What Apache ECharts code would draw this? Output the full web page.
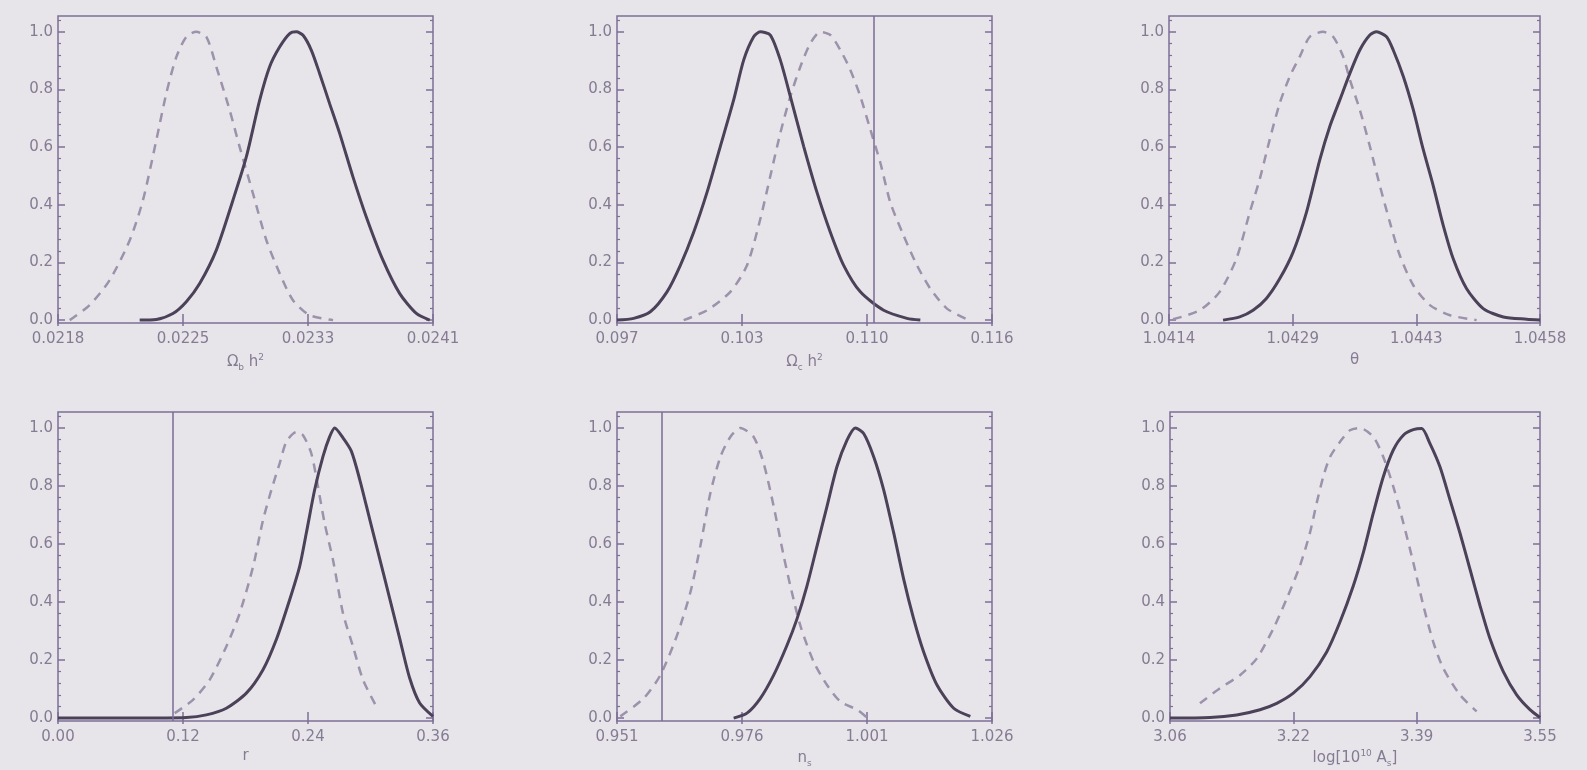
<!DOCTYPE html>
<html>
<head>
<meta charset="utf-8">
<script src="https://cdn.jsdelivr.net/npm/echarts@6/dist/echarts.min.js"></script>
<style>
  html, body { margin: 0; padding: 0; background: #e7e5ea; }
  #main { width: 1587px; height: 770px; }
</style>
</head>
<body>
<div id="main"></div>
<script>
// tick values and labels
const yTicks = [0, 0.2, 0.4, 0.6, 0.8, 1.0];
const yLabels = ['0.0', '0.2', '0.4', '0.6', '0.8', '1.0'];
const yMinor = [0.04, 0.08, 0.12, 0.16, 0.24, 0.28, 0.32, 0.36, 0.44, 0.48, 0.52, 0.56,
  0.64, 0.68, 0.72, 0.76, 0.84, 0.88, 0.92, 0.96, 1.04];

const xTicks1 = [0.0218, 0.022567, 0.023333, 0.0241];
const xLabels1 = ['0.0218', '0.0225', '0.0233', '0.0241'];
const xTicks2 = [0.097, 0.103333, 0.109667, 0.116];
const xLabels2 = ['0.097', '0.103', '0.110', '0.116'];
const xTicks3 = [1.0414, 1.042867, 1.044333, 1.0458];
const xLabels3 = ['1.0414', '1.0429', '1.0443', '1.0458'];
const xTicks4 = [0, 0.12, 0.24, 0.36];
const xLabels4 = ['0.00', '0.12', '0.24', '0.36'];
const xTicks5 = [0.951, 0.976, 1.001, 1.026];
const xLabels5 = ['0.951', '0.976', '1.001', '1.026'];
const xTicks6 = [3.06, 3.223333, 3.386667, 3.55];
const xLabels6 = ['3.06', '3.22', '3.39', '3.55'];

// Omega_b h^2
const solid1 = [[0.022301, 0], [0.022403, 0.002], [0.022505, 0.023], [0.022587, 0.064], [0.022669, 0.127],
  [0.022771, 0.243], [0.022873, 0.416], [0.022955, 0.566], [0.023037, 0.763], [0.023098, 0.879],
  [0.02316, 0.948], [0.023221, 0.994], [0.023262, 1.0], [0.023303, 0.988], [0.023354, 0.936],
  [0.023405, 0.855], [0.023466, 0.751], [0.023528, 0.647], [0.023609, 0.497], [0.023691, 0.358],
  [0.023793, 0.208], [0.023896, 0.092], [0.023998, 0.023], [0.02408, 0]];
const dash1 = [[0.021872, 0], [0.021994, 0.052], [0.022117, 0.139], [0.02224, 0.277], [0.022321, 0.416],
  [0.022403, 0.624], [0.022464, 0.786], [0.022526, 0.913], [0.022587, 0.983], [0.022648, 1.0],
  [0.02271, 0.983], [0.022771, 0.879], [0.022853, 0.728], [0.022914, 0.601], [0.022996, 0.439],
  [0.023078, 0.277], [0.02316, 0.162], [0.023241, 0.069], [0.023343, 0.017], [0.023487, 0]];
// Omega_c h^2
const solid2 = [[0.097, 0], [0.097844, 0.006], [0.098689, 0.029], [0.099533, 0.098], [0.100209, 0.19],
  [0.100884, 0.305], [0.10156, 0.443], [0.102236, 0.603], [0.102911, 0.764], [0.103418, 0.902],
  [0.103924, 0.983], [0.104262, 1.0], [0.104769, 0.989], [0.105276, 0.902], [0.105782, 0.776],
  [0.106458, 0.603], [0.107133, 0.443], [0.107809, 0.305], [0.108484, 0.19], [0.109329, 0.098],
  [0.110511, 0.034], [0.111693, 0.006], [0.112369, 0]];
const dash2 = [[0.100378, 0], [0.10156, 0.034], [0.102742, 0.098], [0.103587, 0.19], [0.104262, 0.351],
  [0.104769, 0.5], [0.105276, 0.649], [0.105782, 0.776], [0.106289, 0.879], [0.106796, 0.96],
  [0.107302, 1.0], [0.107809, 0.989], [0.108316, 0.937], [0.108822, 0.868], [0.109329, 0.776],
  [0.109836, 0.661], [0.110342, 0.546], [0.110849, 0.408], [0.111524, 0.293], [0.1122, 0.19],
  [0.112876, 0.109], [0.11372, 0.04], [0.114733, 0.003]];
// theta
const solid3 = [[1.042041, 0], [1.042239, 0.011], [1.042397, 0.034], [1.042555, 0.075], [1.042714, 0.144],
  [1.042872, 0.236], [1.04303, 0.374], [1.043189, 0.557], [1.043307, 0.672], [1.043426, 0.764],
  [1.043545, 0.856], [1.043663, 0.937], [1.043782, 0.989], [1.043861, 1.0], [1.04398, 0.983],
  [1.044059, 0.937], [1.044178, 0.846], [1.044297, 0.73], [1.044415, 0.592], [1.044534, 0.466],
  [1.044653, 0.328], [1.044771, 0.213], [1.04493, 0.109], [1.045127, 0.04], [1.045365, 0.011],
  [1.045642, 0.003], [1.0458, 0]];
const dash3 = [[1.041447, 0.003], [1.041764, 0.034], [1.042001, 0.098], [1.042199, 0.213], [1.042358, 0.374],
  [1.042476, 0.489], [1.042595, 0.627], [1.042714, 0.753], [1.042832, 0.845], [1.042951, 0.914],
  [1.04307, 0.983], [1.043228, 1.0], [1.043347, 0.983], [1.043466, 0.914], [1.043545, 0.834],
  [1.043663, 0.73], [1.043782, 0.603], [1.043901, 0.466], [1.04402, 0.339], [1.044138, 0.224],
  [1.044297, 0.121], [1.044494, 0.052], [1.044732, 0.017], [1.045048, 0]];
// r
const solid4 = [[0, 0], [0.072, 0], [0.1232, 0.002], [0.1424, 0.011], [0.1616, 0.034], [0.1808, 0.086],
  [0.1968, 0.167], [0.2096, 0.271], [0.2224, 0.408], [0.232, 0.523], [0.2384, 0.638], [0.2464, 0.787],
  [0.2544, 0.902], [0.2608, 0.97], [0.2656, 1.0], [0.2736, 0.966], [0.2816, 0.92], [0.2896, 0.823],
  [0.2992, 0.686], [0.3088, 0.55], [0.3184, 0.413], [0.328, 0.275], [0.3376, 0.138], [0.3472, 0.052],
  [0.36, 0.006]];
const dash4 = [[0.112, 0.017], [0.1296, 0.063], [0.1456, 0.132], [0.1616, 0.247], [0.1744, 0.361],
  [0.1872, 0.521], [0.1968, 0.682], [0.2048, 0.786], [0.2128, 0.878], [0.2192, 0.952], [0.2288, 0.986],
  [0.2352, 0.975], [0.2432, 0.912], [0.2496, 0.797], [0.256, 0.671], [0.264, 0.545], [0.2736, 0.361],
  [0.2832, 0.247], [0.2928, 0.132], [0.3056, 0.04]];
// n_s
const solid5 = [[0.974333, 0], [0.977, 0.017], [0.979667, 0.068], [0.982333, 0.148], [0.985, 0.251],
  [0.987, 0.342], [0.989, 0.456], [0.991, 0.593], [0.993, 0.73], [0.995, 0.867], [0.997, 0.958],
  [0.998667, 1.0], [1.000333, 0.981], [1.002333, 0.901], [1.004333, 0.787], [1.006333, 0.639],
  [1.008333, 0.479], [1.010333, 0.342], [1.012333, 0.228], [1.015, 0.114], [1.018333, 0.034],
  [1.021667, 0.006]];
const dash5 = [[0.951667, 0.006], [0.956333, 0.068], [0.959667, 0.148], [0.963, 0.285], [0.965667, 0.433],
  [0.967667, 0.593], [0.969667, 0.775], [0.971667, 0.9], [0.973667, 0.969], [0.975667, 1.0],
  [0.978333, 0.969], [0.980333, 0.878], [0.982333, 0.73], [0.984333, 0.559], [0.985667, 0.456],
  [0.987667, 0.319], [0.990333, 0.194], [0.993, 0.114], [0.995667, 0.057], [0.999, 0.029], [1.001, 0.002]];
// log[10^10 A_s]
const solid6 = [[3.06, 0], [3.113, 0.002], [3.1483, 0.011], [3.1792, 0.029], [3.2013, 0.051], [3.2233, 0.086],
  [3.2454, 0.143], [3.2675, 0.228], [3.2851, 0.331], [3.3028, 0.456], [3.316, 0.57], [3.3293, 0.707],
  [3.3425, 0.832], [3.3557, 0.924], [3.369, 0.975], [3.3822, 0.994], [3.3933, 0.998], [3.4043, 0.946],
  [3.4175, 0.866], [3.4308, 0.752], [3.444, 0.638], [3.4573, 0.513], [3.4705, 0.388], [3.4837, 0.274],
  [3.5014, 0.16], [3.5191, 0.08], [3.5367, 0.029], [3.55, 0.002]];
const dash6 = [[3.0997, 0.051], [3.1262, 0.103], [3.1527, 0.148], [3.1748, 0.205], [3.1968, 0.308],
  [3.2145, 0.411], [3.2321, 0.525], [3.2454, 0.639], [3.2542, 0.741], [3.263, 0.832], [3.2719, 0.9],
  [3.2851, 0.952], [3.2984, 0.992], [3.3116, 1.0], [3.3293, 0.969], [3.3425, 0.9], [3.3557, 0.798],
  [3.369, 0.673], [3.3822, 0.536], [3.3955, 0.388], [3.4087, 0.262], [3.422, 0.171], [3.444, 0.08],
  [3.4661, 0.023]];

// vertical reference lines (null = none)
const vLines = [0.02241, 0.1106, null, 0.1104, 0.958, null];

const names = [
  '{t|Ω}{s|b}{t| h}{p|2}',
  '{t|Ω}{s|c}{t| h}{p|2}',
  '{t|θ}',
  '{t|r}',
  '{t|n}{s|s}',
  '{t|log[10}{p|10}{t| A}{s|s}{t|]}'
];

const xTicks = [xTicks1, xTicks2, xTicks3, xTicks4, xTicks5, xTicks6];
const xLabels = [xLabels1, xLabels2, xLabels3, xLabels4, xLabels5, xLabels6];
const solids = [solid1, solid2, solid3, solid4, solid5, solid6];
const dashes = [dash1, dash2, dash3, dash4, dash5, dash6];

const boxes = [
  {left: 58, top: 16, width: 375, height: 307},
  {left: 617, top: 16, width: 375, height: 307},
  {left: 1169, top: 16, width: 371, height: 307},
  {left: 58, top: 412, width: 375, height: 309},
  {left: 617, top: 412, width: 375, height: 309},
  {left: 1170, top: 412, width: 370, height: 309}
];

const boxColor = '#7d6f98';
const textColor = '#857b93';
const yMin = -0.01, yMax = 1.055;

function pickLabel(ticks, labels, v) {
  for (let k = 0; k < ticks.length; k++) {
    if (Math.abs(ticks[k] - v) < 1e-7) return labels[k];
  }
  return '';
}

let grid = [], xAxis = [], yAxis = [], series = [];

boxes.forEach((b, i) => {
  grid.push(Object.assign({show: true, borderColor: boxColor, borderWidth: 1.5, backgroundColor: 'transparent'}, b));
  let ticks = xTicks[i];
  let xMin = ticks[0], xMax = ticks[ticks.length - 1];
  // bottom axis with labels
  xAxis.push({
    type: 'value', gridIndex: i, position: 'bottom', min: xMin, max: xMax,
    axisLine: {show: false}, splitLine: {show: false},
    axisTick: {show: true, inside: true, length: 6, customValues: ticks, lineStyle: {color: boxColor, width: 1.5}},
    axisLabel: {
      customValues: ticks, margin: 9, color: textColor, fontSize: 15, fontFamily: 'DejaVu Sans',
      formatter: v => pickLabel(ticks, xLabels[i], v)
    },
    name: names[i], nameLocation: 'middle', nameGap: i < 3 ? 30 : 28,
    nameTextStyle: {
      color: textColor, fontFamily: 'DejaVu Sans',
      rich: {
        t: {fontSize: 15, color: textColor, fontFamily: 'DejaVu Sans'},
        s: {fontSize: 9, color: textColor, padding: [10, 0, 0, 0]},
        p: {fontSize: 9, color: textColor, padding: [0, 0, 9, 0]}
      }
    }
  });
  // top axis, ticks only
  xAxis.push({
    type: 'value', gridIndex: i, position: 'top', min: xMin, max: xMax,
    axisLine: {show: false}, splitLine: {show: false}, axisLabel: {show: false},
    axisTick: {show: true, inside: true, length: 6, customValues: ticks, lineStyle: {color: boxColor, width: 1.5}}
  });
  ['left', 'right'].forEach(pos => {
    yAxis.push({
      type: 'value', gridIndex: i, position: pos, min: yMin, max: yMax,
      axisLine: {show: false}, splitLine: {show: false},
      axisTick: {show: true, inside: true, length: 7, customValues: yTicks, lineStyle: {color: boxColor, width: 1.5}},
      axisLabel: pos === 'left' ? {
        customValues: yTicks, margin: 5, color: textColor, fontSize: 15, fontFamily: 'DejaVu Sans',
        formatter: v => pickLabel(yTicks, yLabels, v)
      } : {show: false}
    });
    yAxis.push({
      type: 'value', gridIndex: i, position: pos, min: yMin, max: yMax,
      axisLine: {show: false}, splitLine: {show: false}, axisLabel: {show: false},
      axisTick: {show: true, inside: true, length: 3, customValues: yMinor, lineStyle: {color: boxColor, width: 1.2}}
    });
  });

  let s = {
    type: 'line', name: 'solid' + i, xAxisIndex: 2 * i, yAxisIndex: 4 * i,
    data: solids[i], showSymbol: false, smooth: 0.25,
    lineStyle: {color: '#4b4159', width: 3}, z: 3
  };
  if (vLines[i] !== null) {
    s.markLine = {
      silent: true, symbol: 'none', label: {show: false},
      lineStyle: {color: '#7a6b96', width: 1.5, type: 'solid'},
      data: [{xAxis: vLines[i]}]
    };
  }
  series.push(s);
  series.push({
    type: 'line', name: 'dash' + i, xAxisIndex: 2 * i, yAxisIndex: 4 * i,
    data: dashes[i], showSymbol: false, smooth: 0.25,
    lineStyle: {color: '#9c92ab', width: 2.5, type: [9, 7]}, z: 2
  });
});

const option = {
  backgroundColor: '#e7e5ea',
  animation: false,
  grid: grid,
  xAxis: xAxis,
  yAxis: yAxis,
  series: series
};

const myChart = echarts.init(document.getElementById('main'));
myChart.setOption(option);
</script>
</body>
</html>
